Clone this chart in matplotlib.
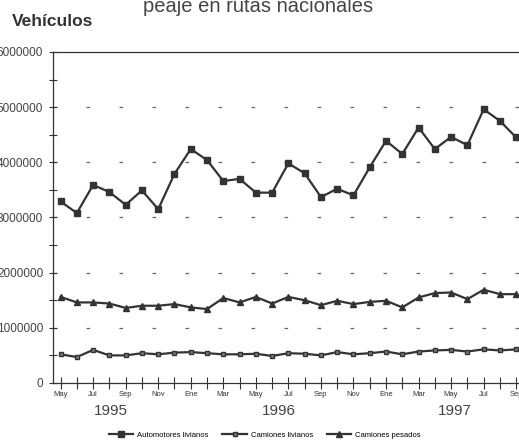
import matplotlib
matplotlib.use('Agg')
import matplotlib.pyplot as plt
import numpy as np

plt.rcParams['font.family'] = ['Liberation Sans', 'DejaVu Sans']

# Monthly data, May 1995 - Sep 1997
months = ['May', 'Jun', 'Jul', 'Ago', 'Sep', 'Oct', 'Nov', 'Dic', 'Ene', 'Feb', 'Mar', 'Abr',
          'May', 'Jun', 'Jul', 'Ago', 'Sep', 'Oct', 'Nov', 'Dic', 'Ene', 'Feb', 'Mar', 'Abr',
          'May', 'Jun', 'Jul', 'Ago', 'Sep']
years = ['1995', '1996', '1997']
year_pos = [3.1, 13.4, 24.2]

autos_livianos = [3.29, 3.08, 3.59, 3.46, 3.23, 3.49, 3.15, 3.79, 4.24, 4.04, 3.66, 3.70, 3.45, 3.45,
                  3.98, 3.80, 3.37, 3.52, 3.40, 3.91, 4.39, 4.15, 4.63, 4.24, 4.46, 4.31, 4.96, 4.75, 4.45]
camiones_pesados = [1.56, 1.46, 1.46, 1.44, 1.36, 1.40, 1.40, 1.43, 1.37, 1.34, 1.54, 1.46, 1.56, 1.44,
                    1.56, 1.50, 1.41, 1.49, 1.43, 1.47, 1.49, 1.37, 1.55, 1.63, 1.64, 1.52, 1.69, 1.61, 1.61]
camiones_livianos = [0.52, 0.47, 0.60, 0.50, 0.50, 0.54, 0.52, 0.55, 0.56, 0.54, 0.52, 0.52, 0.53, 0.49,
                     0.54, 0.53, 0.50, 0.56, 0.52, 0.54, 0.57, 0.52, 0.57, 0.59, 0.60, 0.57, 0.61, 0.59, 0.61]

x = np.arange(len(months))
ink = '#333333'

fig = plt.figure(figsize=(5.19, 4.42), dpi=100)
ax = fig.add_axes([0.102, 0.1335, 0.902, 0.749])

l1, = ax.plot(x, np.array(autos_livianos) * 1e6, color=ink, lw=1.6, marker='s', ms=4.5,
              mfc=ink, mec=ink, label='Automotores livianos')
l3, = ax.plot(x, np.array(camiones_pesados) * 1e6, color=ink, lw=1.6, marker='^', ms=4.5,
              mfc=ink, mec=ink, label='Camiones pesados')
l2, = ax.plot(x, np.array(camiones_livianos) * 1e6, color=ink, lw=1.6, marker='s', ms=3.5,
              mfc='#777777', mec=ink, label='Camiones livianos')

ax.set_xlim(-0.47, 28.3)
ax.set_ylim(0, 6000000)

# y axis
ax.set_yticks(np.arange(0, 6000001, 1000000))
ax.set_yticklabels([str(v) for v in range(0, 6000001, 1000000)], fontsize=8.5, color='#444444')
ax.set_yticks(np.arange(500000, 6000000, 1000000), minor=True)
ax.tick_params(axis='y', which='both', direction='inout', length=6, width=0.8, color=ink, pad=4)

# x axis
ax.set_xticks(x)
ax.set_xticklabels([m if i % 2 == 0 else '' for i, m in enumerate(months)], fontsize=5.5,
                   color='#333333')
ax.tick_params(axis='x', direction='inout', length=8, width=0.8, color=ink, pad=2)

for pos, yr in zip(year_pos, years):
    ax.text(pos, -0.085, yr, transform=ax.get_xaxis_transform(), ha='center', va='center',
            fontsize=11, color='#444444')

# sparse dashed grid
for v in range(1000000, 6000000, 1000000):
    ax.axhline(v, color='#666666', lw=0.9, linestyle=(0, (2.9, 23.5)), zorder=0)

ax.spines['right'].set_visible(False)
for s in ['left', 'bottom', 'top']:
    ax.spines[s].set_color(ink)
    ax.spines[s].set_linewidth(0.9)

fig.text(0.497, 0.973, 'peaje en rutas nacionales', ha='center', va='baseline',
         fontsize=14.5, color='#444444')
fig.text(0.023, 0.952, 'Vehículos', ha='left', va='center', fontsize=12.5, fontweight='bold',
         color='#333333')

fig.legend(handles=[l1, l2, l3], loc='center', bbox_to_anchor=(0.51, 0.016), ncol=3,
           frameon=False, fontsize=5.5, handlelength=3.2, columnspacing=1.8, handletextpad=0.5)

fig.savefig('out.png', dpi=100)
